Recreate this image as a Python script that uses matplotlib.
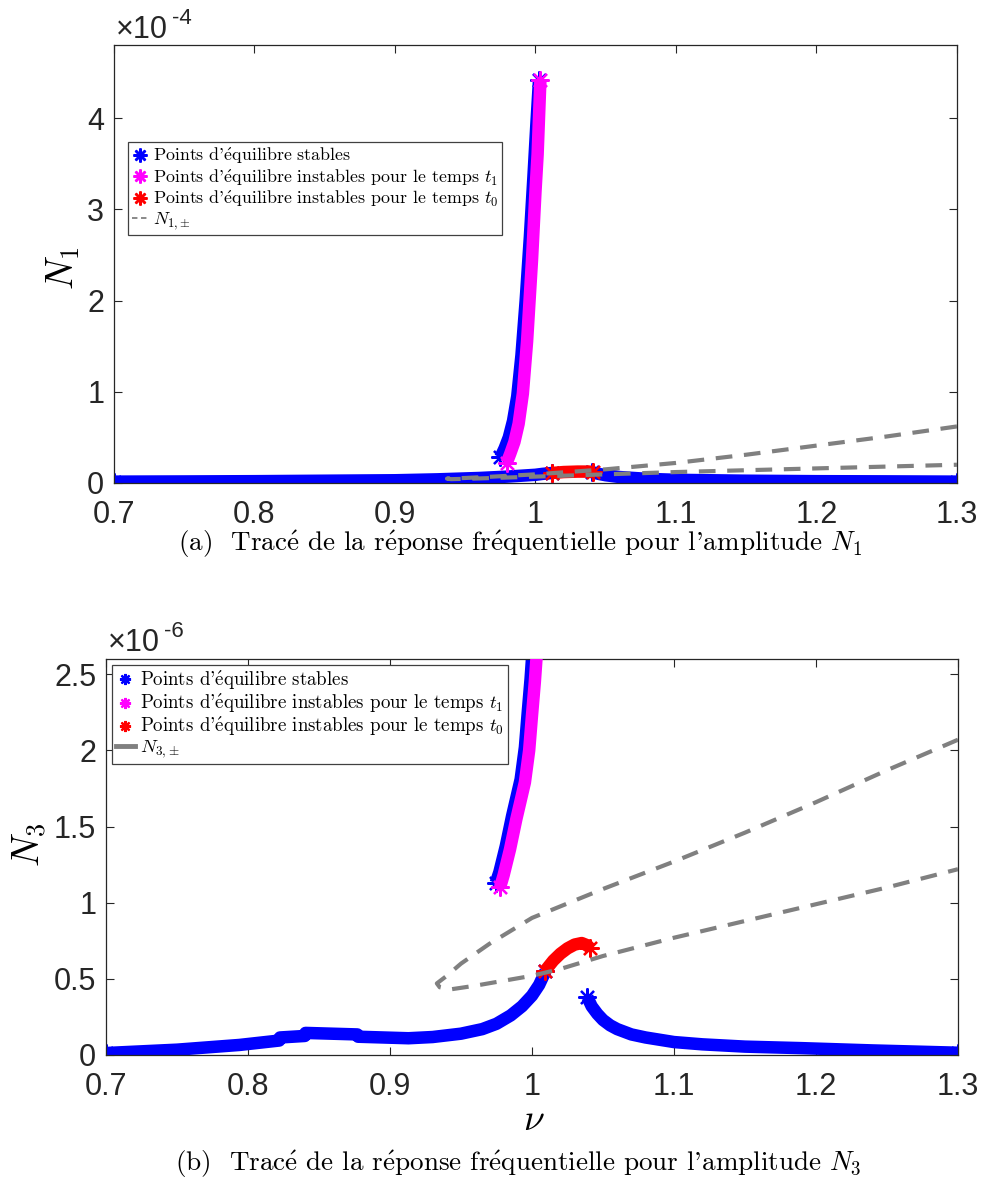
import matplotlib
matplotlib.use('Agg')
import matplotlib.pyplot as plt
from matplotlib.lines import Line2D

plt.rcParams['mathtext.fontset'] = 'cm'
plt.rcParams['font.family'] = ['Liberation Sans', 'DejaVu Sans']
plt.rcParams['axes.unicode_minus'] = False

# ---------------- data : panel (a) N1 ----------------
nu1_stab_left = [0.70, 0.75, 0.80, 0.85, 0.90, 0.93, 0.96, 0.98, 0.99, 1.00, 1.005, 1.012]
N1_stab_left = [0.015e-4, 0.017e-4, 0.02e-4, 0.025e-4, 0.03e-4, 0.04e-4, 0.055e-4, 0.07e-4,
                0.08e-4, 0.09e-4, 0.10e-4, 0.11e-4]
nu1_t0 = [1.012, 1.02, 1.03, 1.038, 1.041]
N1_t0 = [0.11e-4, 0.12e-4, 0.125e-4, 0.125e-4, 0.12e-4]
nu1_stab_right = [1.040, 1.045, 1.05, 1.06, 1.08, 1.10, 1.15, 1.20, 1.25, 1.30]
N1_stab_right = [0.12e-4, 0.10e-4, 0.085e-4, 0.065e-4, 0.045e-4, 0.035e-4, 0.025e-4,
                 0.02e-4, 0.018e-4, 0.015e-4]
nu1_stab_up = [0.975, 0.978, 0.981, 0.984, 0.987, 0.990, 0.993, 0.996, 0.9985, 1.0005, 1.0025]
N1_stab_up = [0.28e-4, 0.38e-4, 0.50e-4, 0.68e-4, 0.95e-4, 1.4e-4, 2.0e-4, 2.7e-4, 3.35e-4,
              3.9e-4, 4.42e-4]
nu1_t1 = [0.9795, 0.982, 0.985, 0.988, 0.991, 0.994, 0.9975, 1.0, 1.0015, 1.0035]
N1_t1 = [0.22e-4, 0.32e-4, 0.45e-4, 0.65e-4, 0.98e-4, 1.55e-4, 2.44e-4, 3.2e-4, 3.6e-4, 4.42e-4]
nu1_pm = [1.30, 1.25, 1.20, 1.15, 1.10, 1.05, 1.00, 0.97, 0.95, 0.937,
          0.94, 0.96, 1.00, 1.05, 1.10, 1.15, 1.20, 1.25, 1.30]
N1_pm = [0.62e-4, 0.51e-4, 0.41e-4, 0.31e-4, 0.22e-4, 0.15e-4, 0.095e-4, 0.07e-4, 0.055e-4, 0.048e-4,
         0.042e-4, 0.05e-4, 0.07e-4, 0.095e-4, 0.12e-4, 0.14e-4, 0.16e-4, 0.18e-4, 0.20e-4]

# ---------------- data : panel (b) N3 ----------------
nu3_stab_left = [0.70, 0.75, 0.794, 0.822, 0.8225, 0.840, 0.8405, 0.877, 0.8775, 0.913,
                 0.93, 0.95, 0.965, 0.975, 0.985, 0.993, 1.000, 1.005, 1.0095]
N3_stab_left = [0.013e-6, 0.035e-6, 0.066e-6, 0.095e-6, 0.115e-6, 0.125e-6, 0.145e-6, 0.135e-6,
                0.12e-6, 0.11e-6, 0.118e-6, 0.14e-6, 0.17e-6, 0.205e-6, 0.26e-6, 0.32e-6,
                0.39e-6, 0.46e-6, 0.55e-6]
nu3_t0 = [1.009, 1.015, 1.02, 1.025, 1.03, 1.035, 1.039, 1.041]
N3_t0 = [0.55e-6, 0.62e-6, 0.665e-6, 0.70e-6, 0.725e-6, 0.735e-6, 0.72e-6, 0.70e-6]
nu3_stab_right = [1.039, 1.042, 1.046, 1.05, 1.055, 1.06, 1.07, 1.08, 1.10, 1.12, 1.15, 1.19, 1.24, 1.30]
N3_stab_right = [0.38e-6, 0.32e-6, 0.27e-6, 0.23e-6, 0.195e-6, 0.17e-6, 0.135e-6, 0.115e-6,
                 0.085e-6, 0.07e-6, 0.055e-6, 0.045e-6, 0.03e-6, 0.015e-6]
nu3_stab_up = [0.9745, 0.977, 0.9815, 0.986, 0.989, 0.992, 0.995, 0.997, 0.999, 1.0005]
N3_stab_up = [1.13e-6, 1.20e-6, 1.37e-6, 1.57e-6, 1.69e-6, 1.81e-6, 2.02e-6, 2.25e-6, 2.47e-6, 2.67e-6]
nu3_t1 = [0.9775, 0.980, 0.9845, 0.989, 0.992, 0.995, 0.998, 1.000, 1.002, 1.0035]
N3_t1 = [1.10e-6, 1.18e-6, 1.35e-6, 1.55e-6, 1.67e-6, 1.79e-6, 2.0e-6, 2.23e-6, 2.45e-6, 2.65e-6]
nu3_pm = [1.30, 1.25, 1.20, 1.15, 1.10, 1.05, 1.00, 0.97, 0.95, 0.94, 0.933, 0.935,
          0.942, 0.96, 1.00, 1.02, 1.05, 1.10, 1.15, 1.20, 1.25, 1.30]
N3_pm = [2.07e-6, 1.87e-6, 1.66e-6, 1.46e-6, 1.27e-6, 1.09e-6, 0.90e-6, 0.73e-6, 0.60e-6, 0.52e-6,
         0.47e-6, 0.445e-6, 0.43e-6, 0.455e-6, 0.52e-6, 0.565e-6, 0.65e-6, 0.77e-6, 0.88e-6,
         0.99e-6, 1.10e-6, 1.22e-6]

xticks = [0.7, 0.8, 0.9, 1.0, 1.1, 1.2, 1.3]
xticklabels = ['0.7', '0.8', '0.9', '1', '1.1', '1.2', '1.3']
yticks1 = [0, 1e-4, 2e-4, 3e-4, 4e-4]
yticklabels1 = ['0', '1', '2', '3', '4']
yticks3 = [0, 0.5e-6, 1e-6, 1.5e-6, 2e-6, 2.5e-6]
yticklabels3 = ['0', '0.5', '1', '1.5', '2', '2.5']

# ---------------- figure ----------------
W, H = 986, 1191
fig = plt.figure(figsize=(W / 100, H / 100), dpi=100)


def rect(l, t, r, b):
    return [l / W, 1 - b / H, (r - l) / W, (b - t) / H]


ax1 = fig.add_axes(rect(114, 45, 957, 483))
ax2 = fig.add_axes(rect(106, 659, 958, 1055))

BLUE, MAG, RED, GRAY = (0, 0, 1), (1, 0, 1), (1, 0, 0), (0.5, 0.5, 0.5)
DARK = (0.15, 0.15, 0.15)
AST = (8, 2, 0)
SERIF = ['cmr10', 'DejaVu Serif']


def fr(s):
    return s.replace('é', r'$\mathrm{\acute{e}}$')


def band(ax, x, y, color, z):
    ax.plot(x, y, color=color, lw=9.0, solid_capstyle='butt', solid_joinstyle='round', zorder=z)
    ax.plot(x, y, ls='none', marker=AST, ms=13, mew=1.6, color=color,
            markevery=[0, len(x) - 1], zorder=z)


for ax, d in ((ax1, 1), (ax2, 3)):
    if d == 1:
        band(ax, nu1_stab_left, N1_stab_left, BLUE, 2)
        band(ax, nu1_stab_right, N1_stab_right, BLUE, 2)
        band(ax, nu1_stab_up, N1_stab_up, BLUE, 2)
        band(ax, nu1_t1, N1_t1, MAG, 3)
        band(ax, nu1_t0, N1_t0, RED, 4)
        ax.plot(nu1_pm, N1_pm, color=GRAY, lw=3, dashes=(4, 2.8), zorder=5)
        ax.set_ylim(0, 4.8e-4)
        ax.set_yticks(yticks1)
        ax.set_yticklabels(yticklabels1)
    else:
        band(ax, nu3_stab_left, N3_stab_left, BLUE, 2)
        band(ax, nu3_stab_right, N3_stab_right, BLUE, 2)
        band(ax, nu3_stab_up, N3_stab_up, BLUE, 2)
        band(ax, nu3_t1, N3_t1, MAG, 3)
        band(ax, nu3_t0, N3_t0, RED, 4)
        ax.plot(nu3_pm, N3_pm, color=GRAY, lw=3, dashes=(4, 2.8), zorder=5)
        ax.set_ylim(0, 2.6e-6)
        ax.set_yticks(yticks3)
        ax.set_yticklabels(yticklabels3)
    ax.set_xlim(0.7, 1.3)
    ax.set_xticks(xticks)
    ax.set_xticklabels(xticklabels)
    ax.tick_params(direction='in', length=6, width=0.8, top=True, right=True,
                   labelsize=22, color=DARK, labelcolor=DARK)
    ax.tick_params(axis='x', pad=12)
    ax.tick_params(axis='y', pad=7)
    for sp in ax.spines.values():
        sp.set_linewidth(0.9)
        sp.set_color(DARK)

# offset texts
fig.text(116 / W, 1 - 38 / H, '×10', fontsize=22, color=DARK, va='baseline', ha='left')
fig.text(172 / W, 1 - 24 / H, '-4', fontsize=16, color=DARK, va='baseline', ha='left')
fig.text(108 / W, 1 - 651 / H, '×10', fontsize=22, color=DARK, va='baseline', ha='left')
fig.text(164 / W, 1 - 637 / H, '-6', fontsize=16, color=DARK, va='baseline', ha='left')

# axis labels
fig.text(63 / W, 1 - 268 / H, r'$N_1$', fontsize=27, rotation=90, ha='center', va='center')
fig.text(30 / W, 1 - 845 / H, r'$N_3$', fontsize=27, rotation=90, ha='center', va='center')
fig.text(534 / W, 1 - 1120 / H, r'$\nu$', fontsize=27, ha='center', va='center')

# captions
fig.text(520 / W, 1 - 544 / H, fr("(a)  Tracé de la réponse fréquentielle pour l'amplitude ") + r'$N_1$',
         fontsize=19.5, family=SERIF, ha='center', va='center')
fig.text(518 / W, 1 - 1164 / H, fr("(b)  Tracé de la réponse fréquentielle pour l'amplitude ") + r'$N_3$',
         fontsize=19.5, family=SERIF, ha='center', va='center')

# legends
lab_st = fr("Points d'équilibre stables")
lab_t1 = fr("Points d'équilibre instables pour le temps ") + r'$t_1$'
lab_t0 = fr("Points d'équilibre instables pour le temps ") + r'$t_0$'

h1 = [Line2D([], [], ls='none', marker=AST, ms=10, mew=1.8, color=BLUE),
      Line2D([], [], ls='none', marker=AST, ms=10, mew=1.8, color=MAG),
      Line2D([], [], ls='none', marker=AST, ms=10, mew=1.8, color=RED),
      Line2D([], [], color=GRAY, lw=1.3, dashes=(3, 2))]
leg1 = ax1.legend(h1, [lab_st, lab_t1, lab_t0, r'$N_{1,\!\pm}$'], loc='upper left',
                  bbox_to_anchor=(14 / 843, 1 - 97 / 438), borderaxespad=0,
                  prop={'family': SERIF, 'size': 12.9}, handlelength=0.9, handletextpad=0.3,
                  labelspacing=0.05, borderpad=0.2, fancybox=False, framealpha=1,
                  edgecolor=(0.25, 0.25, 0.25))
leg1.get_frame().set_linewidth(0.9)

h3 = [Line2D([], [], ls='none', marker=AST, ms=8, mew=1.6, color=BLUE),
      Line2D([], [], ls='none', marker=AST, ms=8, mew=1.6, color=MAG),
      Line2D([], [], ls='none', marker=AST, ms=8, mew=1.6, color=RED),
      Line2D([], [], color=GRAY, lw=3.5)]
leg3 = ax2.legend(h3, [lab_st, lab_t1, lab_t0, r'$N_{3,\!\pm}$'], loc='upper left',
                  bbox_to_anchor=(6 / 852, 1 - 6 / 396), borderaxespad=0,
                  prop={'family': SERIF, 'size': 13.6}, handlelength=1.0, handletextpad=0.3,
                  labelspacing=0.0, borderpad=0.2, fancybox=False, framealpha=1,
                  edgecolor=(0.25, 0.25, 0.25))
leg3.get_frame().set_linewidth(0.9)

fig.savefig('out.png', dpi=100)
